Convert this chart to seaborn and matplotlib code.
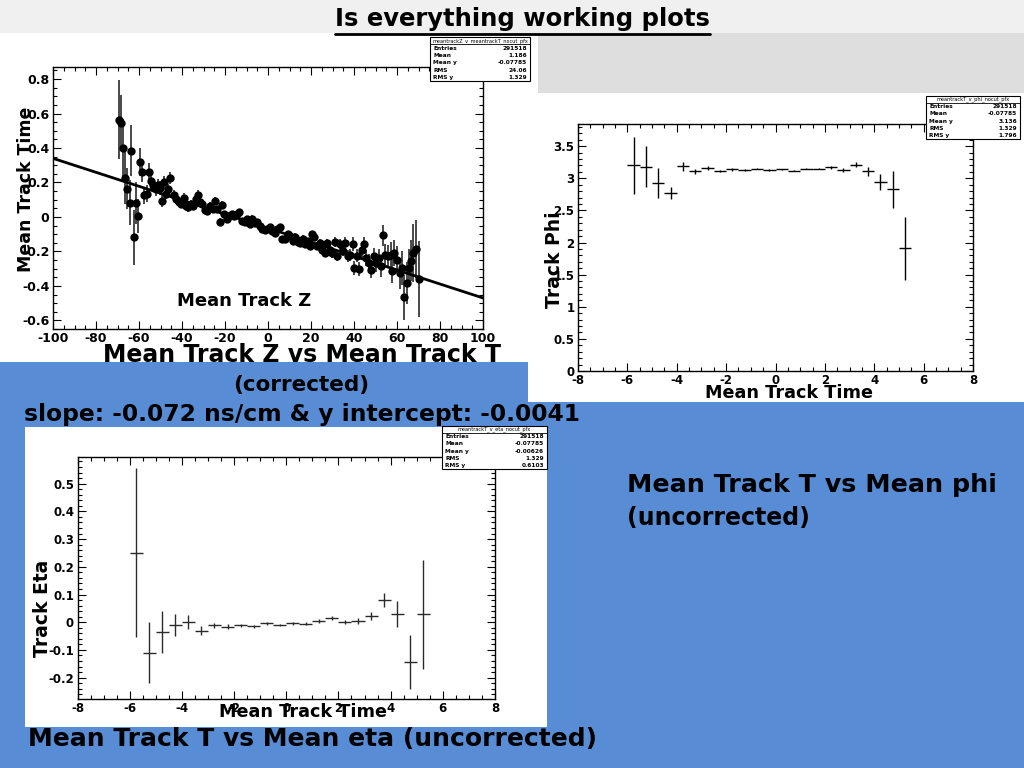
import numpy as np
import pandas as pd
import matplotlib
matplotlib.use("Agg")
import matplotlib.pyplot as plt
import seaborn as sns
from matplotlib.patches import Rectangle
from matplotlib.lines import Line2D
from matplotlib.ticker import MultipleLocator

# ---- data ----
# top left: mean track Z vs mean track time (profile points)
mean_z = [-69.5, -68.4, -67.5, -66.3, -65.4, -64.4, -63.6, -62.5, -61.4, -60.5,
          -59.7, -58.5, -57.5, -56.3, -55.5, -54.5, -53.4, -52.3, -51.2, -50.3,
          -49.4, -48.4, -47.3, -46.3, -45.4,
          -43.9, -42.8, -41.5, -40.4, -39.2, -38.1, -37.1, -36.0, -34.9, -33.7,
          -32.7, -31.8, -30.5, -29.3, -28.2, -27.1, -25.8, -24.7, -23.5, -22.5,
          -21.4, -20.3, -19.2, -18.0, -16.7, -15.6, -14.5, -13.3, -12.0, -10.9,
          -9.8, -8.5, -7.3, -6.2, -5.1, -3.8, -2.7, -1.5, -0.4, 0.9,
          2.0, 3.2, 4.3, 5.6, 6.7, 8.0, 9.1, 10.3, 11.4, 12.7,
          13.8, 15.0, 16.1, 17.4, 18.5, 19.7, 20.5, 21.6, 22.9, 24.1,
          25.2, 26.3, 27.6, 28.7, 29.9, 31.0, 32.3, 33.4, 34.7, 35.8,
          37.0, 38.1, 39.4, 40.2, 41.4, 42.5, 43.6, 44.6, 45.7, 46.8,
          48.0, 49.3, 50.4, 51.5, 52.4, 53.5, 54.6, 55.9, 57.1, 57.7,
          58.7, 59.8, 61.4, 62.1, 63.4, 64.5, 65.6, 66.5, 67.6, 68.7,
          70.0]
mean_t = [0.565, 0.545, 0.40, 0.228, 0.164, 0.082, 0.385, -0.118, 0.08, 0.007,
          0.32, 0.262, 0.125, 0.134, 0.262, 0.207, 0.183, 0.164, 0.183, 0.17,
          0.095, 0.203, 0.134, 0.16, 0.228,
          0.129, 0.105, 0.085, 0.076, 0.109, 0.066, 0.056, 0.076, 0.066, 0.105,
          0.130, 0.089, 0.076, 0.042, 0.037, 0.066, 0.046, 0.095, 0.046, -0.028,
          0.07, 0.017, -0.012, 0.007, 0.017, 0.003, 0.017, 0.027, -0.022, -0.032,
          -0.012, -0.042, -0.009, -0.036, -0.028, -0.052, -0.071, -0.075, -0.071, -0.056,
          -0.081, -0.091, -0.071, -0.061, -0.13, -0.126, -0.101, -0.11, -0.14, -0.114,
          -0.146, -0.153, -0.126, -0.159, -0.14, -0.169, -0.101, -0.114, -0.169, -0.15,
          -0.189, -0.208, -0.153, -0.189, -0.208, -0.146, -0.228, -0.159, -0.198, -0.153,
          -0.228, -0.218, -0.159, -0.296, -0.224, -0.302, -0.189, -0.159, -0.238, -0.267,
          -0.306, -0.228, -0.267, -0.238, -0.287, -0.106, -0.218, -0.228, -0.218, -0.316,
          -0.208, -0.247, -0.326, -0.296, -0.467, -0.384, -0.296, -0.253, -0.208, -0.185,
          -0.361]
mean_t_err = [0.23, 0.16, 0.17, 0.15, 0.12, 0.13, 0.15, 0.16, 0.12, 0.10,
              0.08, 0.06, 0.05, 0.05, 0.05, 0.05, 0.04, 0.04, 0.04, 0.04,
              0.04, 0.035, 0.03, 0.03, 0.035,
              0.03, 0.03, 0.03, 0.025, 0.03, 0.025, 0.025, 0.025, 0.025, 0.03,
              0.025, 0.025, 0.02, 0.02, 0.02, 0.02, 0.02, 0.02, 0.02, 0.02,
              0.02, 0.02, 0.02, 0.02, 0.018, 0.018, 0.018, 0.018, 0.018, 0.018,
              0.018, 0.018, 0.018, 0.018, 0.018, 0.018, 0.018, 0.018, 0.018, 0.018,
              0.018, 0.018, 0.018, 0.018, 0.018, 0.02, 0.02, 0.02, 0.02, 0.02,
              0.02, 0.02, 0.02, 0.02, 0.02, 0.022, 0.022, 0.022, 0.022, 0.025,
              0.025, 0.025, 0.025, 0.028, 0.028, 0.03, 0.03, 0.03, 0.03, 0.035,
              0.035, 0.035, 0.04, 0.04, 0.04, 0.04, 0.045, 0.045, 0.045, 0.05,
              0.05, 0.05, 0.05, 0.055, 0.06, 0.06, 0.06, 0.065, 0.07, 0.07,
              0.075, 0.08, 0.09, 0.10, 0.13, 0.12, 0.11, 0.12, 0.17, 0.17,
              0.22]
fit_z = [-100, 100]
fit_t = [0.34, -0.47]

# right/bottom: profiles vs mean track time (bin centres, half width 0.25)
t_bins = [-5.75, -5.25, -4.75, -4.25, -3.75, -3.25, -2.75, -2.25, -1.75, -1.25,
          -0.75, -0.25, 0.25, 0.75, 1.25, 1.75, 2.25, 2.75, 3.25, 3.75,
          4.25, 4.75, 5.25]
phi_mean = [3.20, 3.18, 2.93, 2.77, 3.19, 3.11, 3.16, 3.11, 3.14, 3.13,
            3.15, 3.13, 3.14, 3.12, 3.15, 3.15, 3.17, 3.13, 3.21, 3.11,
            2.94, 2.83, 1.91]
phi_err = [0.44, 0.32, 0.23, 0.10, 0.07, 0.04, 0.03, 0.02, 0.02, 0.01,
           0.01, 0.01, 0.01, 0.01, 0.01, 0.01, 0.02, 0.03, 0.04, 0.07,
           0.13, 0.29, 0.49]
eta_mean = [0.251, -0.110, -0.035, -0.010, 0.001, -0.030, -0.011, -0.016, -0.011, -0.015,
            -0.004, -0.010, -0.004, -0.005, 0.004, 0.015, 0.000, 0.005, 0.022, 0.080,
            0.030, -0.143, 0.028]
eta_err = [0.306, 0.110, 0.076, 0.038, 0.025, 0.015, 0.010, 0.008, 0.006, 0.006,
           0.005, 0.005, 0.005, 0.005, 0.006, 0.007, 0.008, 0.010, 0.015, 0.025,
           0.047, 0.098, 0.195]
bin_half = 0.25

# tick labels
tl_xticks = [-100, -80, -60, -40, -20, 0, 20, 40, 60, 80, 100]
tl_yticks = [-0.6, -0.4, -0.2, 0, 0.2, 0.4, 0.6, 0.8]
tl_ylabels = ["-0.6", "-0.4", "-0.2", "0", "0.2", "0.4", "0.6", "0.8"]
t_xticks = [-8, -6, -4, -2, 0, 2, 4, 6, 8]
phi_yticks = [0, 0.5, 1, 1.5, 2, 2.5, 3, 3.5]
phi_ylabels = ["0", "0.5", "1", "1.5", "2", "2.5", "3", "3.5"]
eta_yticks = [-0.2, -0.1, 0, 0.1, 0.2, 0.3, 0.4, 0.5]
eta_ylabels = ["-0.2", "-0.1", "0", "0.1", "0.2", "0.3", "0.4", "0.5"]

# stats boxes
stat_names = ["Entries", "Mean", "Mean y", "RMS", "RMS y"]
stats_z = ["291518", "1.186", "-0.07785", "24.06", "1.329"]
stats_phi = ["291518", "-0.07785", "3.136", "1.329", "1.796"]
stats_eta = ["291518", "-0.07785", "-0.00626", "1.329", "0.6103"]

sns.set_style("ticks")
plt.rcParams["font.family"] = ["DejaVu Sans"]
plt.rcParams["text.color"] = "black"
plt.rcParams["xtick.color"] = "black"
plt.rcParams["ytick.color"] = "black"
plt.rcParams["axes.labelcolor"] = "black"

W, H = 1024, 768
fig = plt.figure(figsize=(W / 100, H / 100), dpi=100)
fig.patch.set_facecolor("white")

BLUE = "#588cd4"


def px_rect(x0, y0, x1, y1, color, z=-5, ec="none", lw=0):
    fig.add_artist(Rectangle((x0 / W, 1 - y1 / H), (x1 - x0) / W, (y1 - y0) / H,
                             transform=fig.transFigure, facecolor=color,
                             edgecolor=ec, linewidth=lw, zorder=z))


def px_text(x, y, s, size, ha="center", rot=0, weight="bold", z=5, **kw):
    fig.text(x / W, 1 - y / H, s, fontsize=size, ha=ha, va="center",
             rotation=rot, fontweight=weight, zorder=z, color="black", **kw)


def stats_box(x0, y0, x1, y1, header, values):
    px_rect(x0, y0, x1, y1, "white", z=8, ec="black", lw=0.8)
    row_h = (y1 - y0) / 6
    fig.add_artist(Line2D([x0 / W, x1 / W], [1 - (y0 + row_h) / H] * 2,
                          transform=fig.transFigure, color="black", lw=0.6, zorder=9))
    px_text((x0 + x1) / 2, y0 + row_h * 0.5, header, 3.6, weight="normal", z=9)
    for i, (name, val) in enumerate(zip(stat_names, values)):
        yy = y0 + row_h * (i + 1.5)
        px_text(x0 + 3, yy, name, 4.2, ha="left", z=9)
        px_text(x1 - 3, yy, val, 4.2, ha="right", z=9)


def root_axes(ax, xlim, ylim, xticks, xlabels, yticks, ylabels, xminor, yminor, size):
    ax.set_xlim(*xlim)
    ax.set_ylim(*ylim)
    ax.set_xticks(xticks)
    ax.set_xticklabels(xlabels, fontweight="bold", fontsize=size)
    ax.set_yticks(yticks)
    ax.set_yticklabels(ylabels, fontweight="bold", fontsize=size)
    ax.xaxis.set_minor_locator(MultipleLocator(xminor))
    ax.yaxis.set_minor_locator(MultipleLocator(yminor))
    ax.tick_params(which="both", direction="in", top=True, right=True, width=0.8,
                   pad=2.5, colors="black")
    ax.tick_params(which="major", length=6)
    ax.tick_params(which="minor", length=3)
    for s in ax.spines.values():
        s.set_visible(True)
        s.set_linewidth(1.0)
        s.set_color("black")
    ax.set_xlabel("")
    ax.set_ylabel("")
    ax.set_facecolor("white")


# ---- slide background ----
px_rect(0, 0, W, 33, "#f0f0f0")
px_rect(538, 33, W, 93, "#dedede")
px_rect(0, 362, 528, H, BLUE)
px_rect(528, 402, W, H, BLUE)
px_rect(528, 93, W, 402, "white", z=-4)
px_rect(25, 427, 547, 727, "white", z=-4)

# ---- top left: mean track Z vs time ----
ax1 = fig.add_axes([53 / W, 1 - 329 / H, 430 / W, 262 / H])
dz = pd.DataFrame({"z": mean_z, "t": mean_t, "err": mean_t_err})
ax1.errorbar(dz["z"], dz["t"], yerr=dz["err"], fmt="none", ecolor="#3a3a3a", elinewidth=1.3, zorder=2)
sns.scatterplot(data=dz, x="z", y="t", ax=ax1, color="black", s=36, edgecolor="black", linewidth=0, zorder=3)
sns.lineplot(x=fit_z, y=fit_t, ax=ax1, color="black", linewidth=2.0, zorder=4)
root_axes(ax1, (-100, 100), (-0.65, 0.87), tl_xticks, [str(v) for v in tl_xticks],
          tl_yticks, tl_ylabels, 5, 0.05, 9)
px_text(26, 189, "Mean Track Time", 12.5, rot=90)
px_text(244, 301, "Mean Track Z", 13)

# ---- top right: phi profile ----
ax2 = fig.add_axes([578 / W, 1 - 371 / H, 395 / W, 246.7 / H])
ax2.errorbar(t_bins, phi_mean, xerr=bin_half, yerr=phi_err, fmt="none", ecolor="black", elinewidth=1.0)
root_axes(ax2, (-8, 8), (0, 3.84), t_xticks, [str(v) for v in t_xticks],
          phi_yticks, phi_ylabels, 0.5, 0.1, 8.5)
px_text(555, 260, "Track Phi", 13.5, rot=90)
px_text(789, 393, "Mean Track Time", 12.7)

# ---- bottom left: eta profile ----
ax3 = fig.add_axes([77.5 / W, 1 - 699 / H, 417.5 / W, 242.5 / H])
ax3.errorbar(t_bins, eta_mean, xerr=bin_half, yerr=eta_err, fmt="none", ecolor="#2a2a2a", elinewidth=1.0)
root_axes(ax3, (-8, 8), (-0.277, 0.598), t_xticks, [str(v) for v in t_xticks],
          eta_yticks, eta_ylabels, 0.5, 0.02, 8.5)
px_text(42, 608, "Track Eta", 13.5, rot=90)
px_text(303, 712, "Mean Track Time", 12.7)

# ---- stats boxes ----
stats_box(430, 37, 530, 81, "meantrackZ_v_meantrackT_nocut_pfx", stats_z)
stats_box(926, 96, 1020, 139, "meantrackT_v_phi_nocut_pfx", stats_phi)
stats_box(442, 426, 547, 469, "meantrackT_v_eta_nocut_pfx", stats_eta)

# ---- slide text ----
px_text(522, 19, "Is everything working plots", 17.5)
fig.add_artist(Line2D([335 / W, 710 / W], [1 - 34 / H] * 2, transform=fig.transFigure,
                      color="black", lw=2, zorder=5))
px_text(302, 355, "Mean Track Z vs Mean Track T", 17)
px_text(301, 385, "(corrected)", 15.5)
px_text(302, 415, "slope: -0.072 ns/cm & y intercept: -0.0041", 16.8)
px_text(627, 485, "Mean Track T vs Mean phi", 18.3, ha="left")
px_text(627, 518, "(uncorrected)", 17, ha="left")
px_text(28, 739, "Mean Track T vs Mean eta (uncorrected)", 18, ha="left")

fig.savefig("out.png", dpi=100)
